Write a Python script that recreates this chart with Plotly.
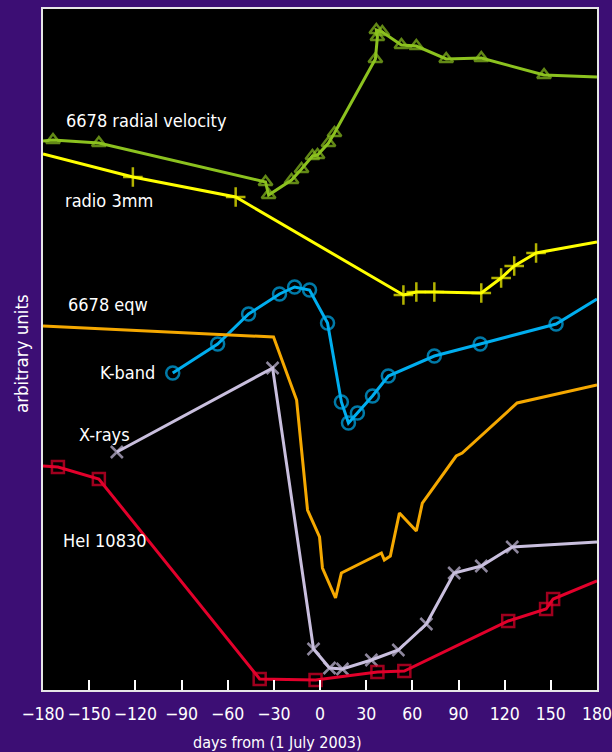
import plotly.graph_objects as go

# ---- data (days from 1 July 2003, arbitrary units) ----
rv_days = [-180, -173.5, -143.7, -35.4, -33.4, -18.5, -12.0, -4.9, -1.6, 5.5, 9.4, 36.0, 37.3, 36.6, 40.5, 52.9, 62.6, 82.0, 104.8, 145.6, 180]
rv_vals = [549, 550, 547, 508, 495, 510, 521, 534, 535, 547, 557, 631, 653, 660, 658, 645, 644, 631, 632, 615, 613]

radio_days = [-180, -121.6, -54.8, 54.2, 62.6, 74.3, 104.8, 117.7, 126.2, 140.4, 180]
radio_vals = [536, 513, 493, 395, 398, 398, 397, 412, 424, 437, 448]

kband_days = [-95.7, -66.5, -46.4, -26.3, -16.5, -6.8, 4.9, 13.9, 18.5, 24.3, 34.1, 44.4, 74.3, 104.1, 153.4, 180]
kband_vals = [317, 346, 376, 396, 403, 400, 367, 288, 267, 277, 294, 314, 334, 346, 366, 391]

eqw_days = [-180, -30.2, -15.2, -8.1, -0.3, 1.6, 10.1, 13.9, 39.9, 41.8, 45.7, 51.6, 62.6, 66.5, 88.5, 92.4, 128.1, 180]
eqw_vals = [364, 353, 290, 180, 153, 122, 92, 117, 137, 130, 134, 177, 159, 187, 234, 237, 287, 305]

xray_days = [-132.0, -30.8, -4.2, 6.2, 14.6, 33.4, 50.9, 69.1, 87.2, 104.8, 124.9, 180]
xray_vals = [238, 322, 41, 22, 21, 30, 40, 66, 117, 124, 143, 148]

hei_days = [-180, -170.3, -143.7, -39.2, -2.9, 37.3, 54.8, 122.3, 146.9, 151.5, 180]
hei_vals = [224, 223, 211, 11, 10, 18, 19, 69, 81, 91, 109]

tick_vals = [-180, -150, -120, -90, -60, -30, 0, 30, 60, 90, 120, 150, 180]
tick_text = ["\u2212180", "\u2212150", "\u2212120", "\u221290", "\u221260", "\u221230", "0", "30", "60", "90", "120", "150", "180"]

labels = ["6678 radial velocity", "radio 3mm", "6678 eqw", "K-band", "X-rays", "HeI 10830"]
label_x = [-166.4, -166.9, -165.0, -106.1, -158.0, -168.3]
label_y = [570, 490, 386, 318, 256, 150]
label_anchor = ["left", "left", "left", "right", "left", "left"]

FONT = "Liberation Sans Narrow, DejaVu Sans Condensed, Liberation Sans, Arial, sans-serif"
BG = "#3c0e74"


def sizes(n, s, first_edge, last_edge):
    out = [s] * n
    if first_edge:
        out[0] = 0
    if last_edge:
        out[-1] = 0
    return out


fig = go.Figure()

fig.add_trace(go.Scatter(
    x=rv_days, y=rv_vals, mode="lines+markers",
    line=dict(color="#8cc21f", width=3),
    marker=dict(symbol="triangle-up-open", size=sizes(len(rv_days), 12, True, True),
                color="#8cc21f", line=dict(width=2.5, color="#8cc21f")),
))
fig.add_trace(go.Scatter(
    x=radio_days, y=radio_vals, mode="lines+markers",
    line=dict(color="#ffff00", width=3),
    marker=dict(symbol="cross-thin", size=sizes(len(radio_days), 14, True, True),
                color="#ffff00", line=dict(width=2.5, color="#ffff00")),
))
fig.add_trace(go.Scatter(
    x=kband_days, y=kband_vals, mode="lines+markers",
    line=dict(color="#00aeef", width=3),
    marker=dict(symbol="circle-open", size=sizes(len(kband_days), 13, False, True),
                color="#00aeef", line=dict(width=2.5, color="#00aeef")),
))
fig.add_trace(go.Scatter(
    x=eqw_days, y=eqw_vals, mode="lines",
    line=dict(color="#f5a800", width=3),
))
fig.add_trace(go.Scatter(
    x=xray_days, y=xray_vals, mode="lines+markers",
    line=dict(color="#c9bfde", width=3),
    marker=dict(symbol="x-thin", size=sizes(len(xray_days), 12, False, True),
                color="#c9bfde", line=dict(width=2.5, color="#c9bfde")),
))
fig.add_trace(go.Scatter(
    x=hei_days, y=hei_vals, mode="lines+markers",
    line=dict(color="#e2002b", width=3),
    marker=dict(symbol="square-open", size=sizes(len(hei_days), 12, True, True),
                color="#e2002b", line=dict(width=2.5, color="#e2002b")),
))

for t, x, y, a in zip(labels, label_x, label_y, label_anchor):
    fig.add_annotation(x=x, y=y, text=t, showarrow=False, xanchor=a, yanchor="middle",
                       font=dict(family=FONT, size=18, color="white"))

fig.add_annotation(text="days from (1 July 2003)", xref="paper", yref="paper",
                   x=(277 - 43) / 554, y=-(742 - 690) / 681, xanchor="center", yanchor="middle",
                   showarrow=False, font=dict(family=FONT, size=16, color="white"))
fig.add_annotation(text="arbitrary units", xref="paper", yref="paper",
                   x=-(43 - 22) / 554, y=(690 - 354) / 681, xanchor="center", yanchor="middle",
                   textangle=-90, showarrow=False, font=dict(family=FONT, size=18.5, color="white"))

fig.update_layout(
    width=612, height=752,
    margin=dict(l=43, r=15, t=9, b=62, autoexpand=False),
    paper_bgcolor=BG, plot_bgcolor="black",
    showlegend=False,
    font=dict(family=FONT, size=18, color="white"),
)
fig.update_xaxes(range=[-180, 180], tickvals=tick_vals, ticktext=tick_text,
                 ticks="inside", ticklen=10, tickwidth=1.5, tickcolor="white",
                 showgrid=False, zeroline=False, showline=True, linecolor="#e6e6e6",
                 linewidth=2, mirror=True, ticklabelstandoff=7, automargin=False,
                 ticklabeloverflow="allow",
                 tickfont=dict(family=FONT, size=17.5, color="white"))
fig.update_yaxes(range=[0, 681], showticklabels=False, ticks="", showgrid=False,
                 automargin=False,
                 zeroline=False, showline=True, linecolor="#e6e6e6", linewidth=2, mirror=True)

fig.write_html("out.html", config={"displayModeBar": False},
               post_script="document.body.style.margin='0';document.body.style.overflow='hidden';")
